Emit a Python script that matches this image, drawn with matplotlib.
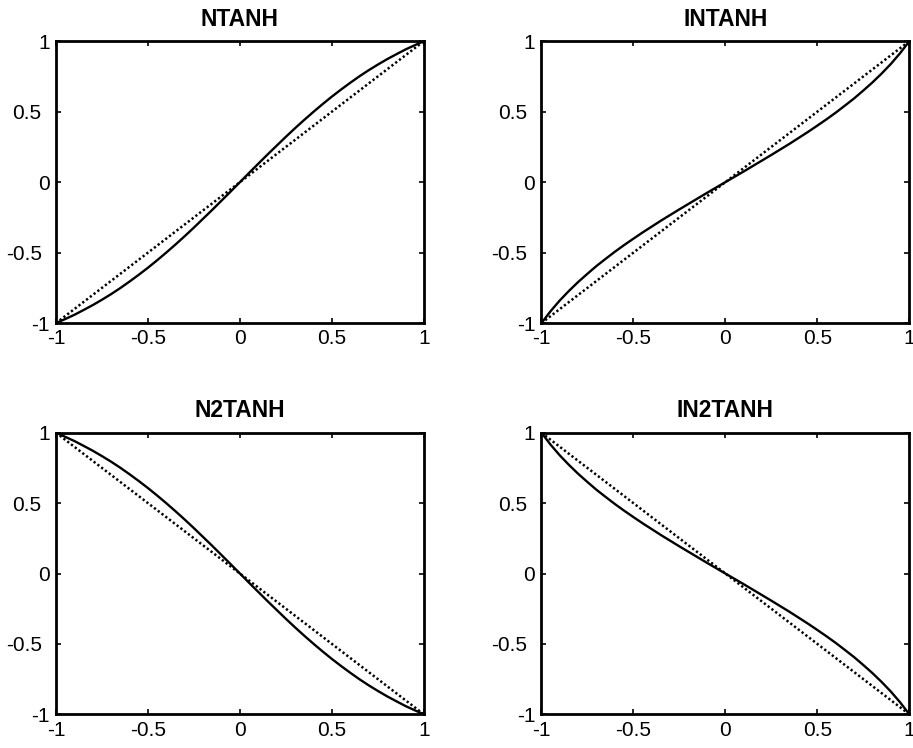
import matplotlib.pyplot as plt
from matplotlib.transforms import ScaledTranslation

plt.rcParams['font.family'] = ['Liberation Sans', 'DejaVu Sans']

# sample points along x, read at steps of 0.05
x = [-1.0, -0.95, -0.9, -0.85, -0.8, -0.75, -0.7, -0.65, -0.6, -0.55, -0.5,
     -0.45, -0.4, -0.35, -0.3, -0.25, -0.2, -0.15, -0.1, -0.05, 0.0,
     0.05, 0.1, 0.15, 0.2, 0.25, 0.3, 0.35, 0.4, 0.45, 0.5,
     0.55, 0.6, 0.65, 0.7, 0.75, 0.8, 0.85, 0.9, 0.95, 1.0]

ntanh = [-1.0, -0.971, -0.941, -0.907, -0.872, -0.834, -0.794, -0.751, -0.705, -0.657, -0.607,
         -0.554, -0.499, -0.442, -0.383, -0.322, -0.259, -0.196, -0.131, -0.066, 0.0,
         0.066, 0.131, 0.196, 0.259, 0.322, 0.383, 0.442, 0.499, 0.554, 0.607,
         0.657, 0.705, 0.751, 0.794, 0.834, 0.872, 0.907, 0.941, 0.971, 1.0]
intanh = [-1.0, -0.915, -0.839, -0.771, -0.708, -0.650, -0.594, -0.543, -0.493, -0.446, -0.401,
          -0.357, -0.315, -0.273, -0.233, -0.193, -0.154, -0.115, -0.076, -0.038, 0.0,
          0.038, 0.076, 0.115, 0.154, 0.193, 0.233, 0.273, 0.315, 0.357, 0.401,
          0.446, 0.493, 0.543, 0.594, 0.650, 0.708, 0.771, 0.839, 0.915, 1.0]
n2tanh = [1.0, 0.971, 0.941, 0.907, 0.872, 0.834, 0.794, 0.751, 0.705, 0.657, 0.607,
          0.554, 0.499, 0.442, 0.383, 0.322, 0.259, 0.196, 0.131, 0.066, 0.0,
          -0.066, -0.131, -0.196, -0.259, -0.322, -0.383, -0.442, -0.499, -0.554, -0.607,
          -0.657, -0.705, -0.751, -0.794, -0.834, -0.872, -0.907, -0.941, -0.971, -1.0]
in2tanh = [1.0, 0.915, 0.839, 0.771, 0.708, 0.650, 0.594, 0.543, 0.493, 0.446, 0.401,
           0.357, 0.315, 0.273, 0.233, 0.193, 0.154, 0.115, 0.076, 0.038, 0.0,
           -0.038, -0.076, -0.115, -0.154, -0.193, -0.233, -0.273, -0.315, -0.357, -0.401,
           -0.446, -0.493, -0.543, -0.594, -0.650, -0.708, -0.771, -0.839, -0.915, -1.0]

# reference diagonals
diag_x = [-1, 1]
diag_up = [-1, 1]
diag_down = [1, -1]

titles = ['NTANH', 'INTANH', 'N2TANH', 'IN2TANH']
curves = [ntanh, intanh, n2tanh, in2tanh]
diags = [diag_up, diag_up, diag_down, diag_down]
ticks = [-1, -0.5, 0, 0.5, 1]
ticklabels = ['-1', '-0.5', '0', '0.5', '1']

fig = plt.figure(figsize=(9.13, 7.48), dpi=100)
positions = [
    [0.0613, 0.568, 0.403, 0.377],
    [0.593, 0.568, 0.403, 0.377],
    [0.0613, 0.045, 0.403, 0.3765],
    [0.593, 0.045, 0.403, 0.3765],
]

for pos, title, y, d in zip(positions, titles, curves, diags):
    ax = fig.add_axes(pos)
    ax.plot(x, y, color='black', lw=1.7, solid_joinstyle='round')
    ax.plot(diag_x, d, color='black', lw=1.8, linestyle=(0, (0.9, 1.0)))
    ax.set_xlim(-1, 1)
    ax.set_ylim(-1, 1)
    ax.set_xticks(ticks)
    ax.set_yticks(ticks)
    ax.set_xticklabels(ticklabels)
    ax.set_yticklabels(ticklabels)
    ax.tick_params(direction='in', length=3.5, width=1.2, labelsize=15,
                   top=True, right=True, pad=4.5)
    for sp in ax.spines.values():
        sp.set_linewidth(2.0)
    ax.set_title(title, fontsize=16.5, fontweight='bold', pad=11)
    # decimal labels on y sit further from the axis
    for lab in ax.get_yticklabels():
        if '.' in lab.get_text():
            lab.set_transform(lab.get_transform() + ScaledTranslation(-8 / 100, 0, fig.dpi_scale_trans))

fig.savefig('out.png', dpi=100)
